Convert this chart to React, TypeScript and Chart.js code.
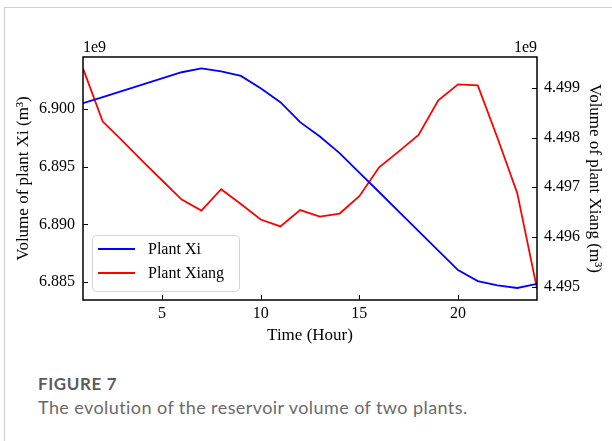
import React, { useEffect, useRef } from "react";
import { Chart, registerables } from "chart.js";

Chart.register(...registerables);

// ---- data ----
const hours = [1, 2, 3, 4, 5, 6, 7, 8, 9, 10, 11, 12, 13, 14, 15, 16, 17, 18, 19, 20, 21, 22, 23, 24];
const xiVolume = [
  6.90049e9, 6.90102e9, 6.90155e9, 6.90209e9, 6.90263e9, 6.90317e9, 6.90351e9, 6.90324e9,
  6.90285e9, 6.90179e9, 6.90058e9, 6.89885e9, 6.89761e9, 6.89617e9, 6.89448e9, 6.8928e9,
  6.89111e9, 6.88941e9, 6.88773e9, 6.88604e9, 6.88509e9, 6.88472e9, 6.88449e9, 6.88485e9,
];
const xiangVolume = [
  4.49939e9, 4.49832e9, 4.49793e9, 4.49753e9, 4.49714e9, 4.49675e9, 4.49653e9, 4.49696e9,
  4.49666e9, 4.49635e9, 4.49621e9, 4.49654e9, 4.49641e9, 4.49647e9, 4.49682e9, 4.4974e9,
  4.49772e9, 4.49805e9, 4.49875e9, 4.49907e9, 4.49905e9, 4.49799e9, 4.49688e9, 4.49496e9,
];
const xTicks = [5, 10, 15, 20];
const xiTicks = [6.885e9, 6.89e9, 6.895e9, 6.9e9];
const xiangTicks = [4.495e9, 4.496e9, 4.497e9, 4.498e9, 4.499e9];
const seriesNames = ["Plant Xi", "Plant Xiang"];
const seriesColors = ["#0000ff", "#ff0000"];

const SERIF = "'Liberation Serif', 'Times New Roman', serif";

const decorPlugin = {
  id: "decor",
  afterDraw(chart: any) {
    const { ctx, chartArea, scales } = chart;
    const { left, right, top, bottom } = chartArea;
    const tl = 5;
    ctx.save();
    ctx.strokeStyle = "#000";
    ctx.lineWidth = 1;
    ctx.beginPath();
    scales.x.ticks.forEach((t: any) => {
      const p = Math.round(scales.x.getPixelForValue(t.value)) + 0.5;
      ctx.moveTo(p, bottom);
      ctx.lineTo(p, bottom - tl);
    });
    scales.y.ticks.forEach((t: any) => {
      const p = Math.round(scales.y.getPixelForValue(t.value)) + 0.5;
      ctx.moveTo(left, p);
      ctx.lineTo(left + tl, p);
    });
    scales.y1.ticks.forEach((t: any) => {
      const p = Math.round(scales.y1.getPixelForValue(t.value)) + 0.5;
      ctx.moveTo(right, p);
      ctx.lineTo(right - tl, p);
    });
    ctx.stroke();
    ctx.lineWidth = 1.5;
    ctx.strokeRect(left, top, right - left, bottom - top);

    // offset labels
    ctx.fillStyle = "#000";
    ctx.font = "16px " + SERIF;
    ctx.textBaseline = "alphabetic";
    ctx.textAlign = "left";
    ctx.fillText("1e9", left, top - 5);
    ctx.textAlign = "right";
    ctx.fillText("1e9", right, top - 5);

    // legend
    const bx = left + 9, by = bottom - 65, bw = 147, bh = 56;
    ctx.fillStyle = "rgba(255,255,255,0.85)";
    ctx.strokeStyle = "#d4d4d4";
    ctx.lineWidth = 1;
    ctx.beginPath();
    (ctx as any).roundRect(bx + 0.5, by + 0.5, bw, bh, 4);
    ctx.fill();
    ctx.stroke();
    ctx.font = "16px " + SERIF;
    ctx.textAlign = "left";
    ctx.textBaseline = "middle";
    chart.data.datasets.forEach((ds: any, i: number) => {
      const yy = by + 14 + i * 24;
      ctx.strokeStyle = ds.borderColor;
      ctx.lineWidth = 1.8;
      ctx.beginPath();
      ctx.moveTo(bx + 6, yy);
      ctx.lineTo(bx + 43, yy);
      ctx.stroke();
      ctx.fillStyle = "#000";
      ctx.fillText(ds.label, bx + 56, yy + 1);
    });
    ctx.restore();
  },
};

export default function App() {
  const ref = useRef<HTMLCanvasElement>(null);
  useEffect(() => {
    if (!ref.current) return;
    const tickFont = { family: SERIF, size: 16 };
    const titleFont = { family: SERIF, size: 17 };
    const chart = new Chart(ref.current, {
      type: "line",
      data: {
        datasets: [
          {
            label: seriesNames[0],
            data: hours.map((h, i) => ({ x: h, y: xiVolume[i] })),
            borderColor: seriesColors[0],
            backgroundColor: seriesColors[0],
            borderWidth: 1.8,
            pointRadius: 0,
            tension: 0,
            yAxisID: "y",
          },
          {
            label: seriesNames[1],
            data: hours.map((h, i) => ({ x: h, y: xiangVolume[i] })),
            borderColor: seriesColors[1],
            backgroundColor: seriesColors[1],
            borderWidth: 1.8,
            pointRadius: 0,
            tension: 0,
            yAxisID: "y1",
          },
        ],
      },
      options: {
        animation: false,
        responsive: false,
        layout: { padding: { left: 0, right: 0, top: 57, bottom: 0 } },
        plugins: { legend: { display: false }, tooltip: { enabled: false } },
        scales: {
          x: {
            type: "linear",
            min: 1,
            max: 24,
            afterBuildTicks: (s: any) => {
              s.ticks = xTicks.map((v) => ({ value: v }));
            },
            afterFit: (s: any) => {
              s.height = 50;
            },
            grid: { display: false, drawTicks: false },
            border: { display: false },
            ticks: { font: tickFont, color: "#000", padding: 4, maxRotation: 0 },
            title: {
              display: true,
              text: "Time (Hour)",
              font: titleFont,
              color: "#000",
              padding: { top: 0, bottom: 4 },
            },
          },
          y: {
            type: "linear",
            position: "left",
            min: 6.88345e9,
            max: 6.90449e9,
            afterBuildTicks: (s: any) => {
              s.ticks = xiTicks.map((v) => ({ value: v }));
            },
            afterFit: (s: any) => {
              s.width = 83;
            },
            grid: { display: false, drawTicks: false },
            border: { display: false },
            ticks: {
              font: tickFont,
              color: "#000",
              padding: 8,
              callback: (v: any) => (Number(v) / 1e9).toFixed(3),
            },
            title: {
              display: true,
              text: "Volume of plant Xi (m³)",
              font: titleFont,
              color: "#000",
              padding: { top: 13, bottom: 0 },
            },
          },
          y1: {
            type: "linear",
            position: "right",
            min: 4.49473e9,
            max: 4.49962e9,
            afterBuildTicks: (s: any) => {
              s.ticks = xiangTicks.map((v) => ({ value: v }));
            },
            afterFit: (s: any) => {
              s.width = 75;
            },
            grid: { display: false, drawTicks: false },
            border: { display: false },
            ticks: {
              font: tickFont,
              color: "#000",
              padding: 7,
              callback: (v: any) => (Number(v) / 1e9).toFixed(3),
            },
            title: {
              display: true,
              text: "Volume of plant Xiang (m³)",
              font: titleFont,
              color: "#000",
              padding: { top: 7, bottom: 0 },
            },
          },
        },
      },
      plugins: [decorPlugin],
    });
    return () => chart.destroy();
  }, []);

  return (
    <div style={{ position: "absolute", left: 0, top: 0, width: 612, height: 441, background: "#fff", overflow: "hidden" }}>
      <div
        style={{
          position: "absolute",
          left: 4,
          top: 7,
          width: 620,
          height: 450,
          borderTop: "1px solid #cfcfcf",
          borderLeft: "1px solid #cfcfcf",
        }}
      />
      <canvas ref={ref} width={612} height={350} style={{ position: "absolute", left: 0, top: 0, display: "block" }} />
      <div
        style={{
          position: "absolute",
          left: 38,
          top: 373,
          fontFamily: "Lato, 'Open Sans', sans-serif",
          fontWeight: 700,
          fontSize: 17,
          letterSpacing: "0.6px",
          color: "#5b5b5b",
          lineHeight: "22px",
          whiteSpace: "nowrap",
        }}
      >
        FIGURE 7
      </div>
      <div
        style={{
          position: "absolute",
          left: 38,
          top: 396,
          fontFamily: "Lato, 'Open Sans', sans-serif",
          fontSize: 18,
          letterSpacing: "0.42px",
          color: "#6a6a6a",
          lineHeight: "22px",
          whiteSpace: "nowrap",
        }}
      >
        The evolution of the reservoir volume of two plants.
      </div>
    </div>
  );
}
